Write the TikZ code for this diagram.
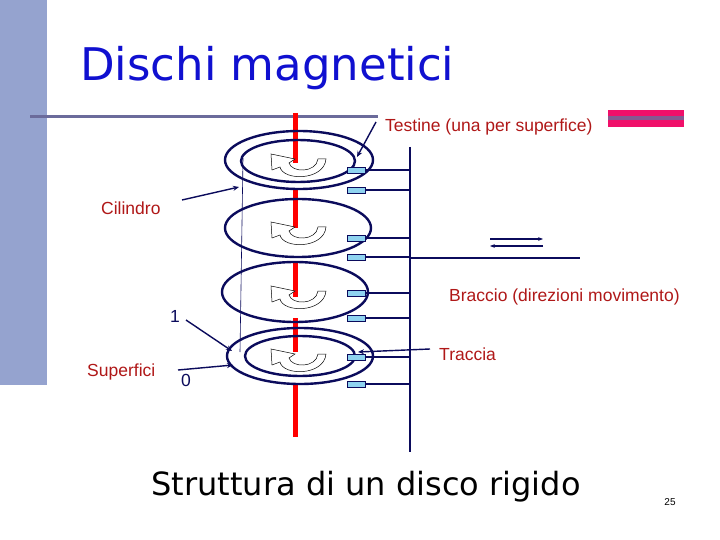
\documentclass[tikz,border=0pt]{standalone}
\usepackage{fontspec}
\setmainfont{Liberation Sans}
\newfontfamily\dv{DejaVu Sans}
\usetikzlibrary{arrows.meta}
\definecolor{navy}{HTML}{0B0B5C}
\definecolor{lab}{HTML}{B01818}
\definecolor{bar}{HTML}{95A3CF}
\definecolor{ttl}{HTML}{1010D0}
\definecolor{rule}{HTML}{6B6B9B}
\definecolor{head}{HTML}{8FD3F0}
\definecolor{pinkc}{HTML}{F0106A}
\tikzset{
 disc/.style={draw=navy,line width=2.4pt},
 spindle/.style={draw=red,line width=5pt},
 hd/.style={draw=navy,fill=head,line width=0.8pt},
 arm/.style={draw=navy,line width=2pt},
 lbl/.style={text=lab,font=\fontsize{17.5}{20}\selectfont,inner sep=0pt},
 ptr/.style={draw=navy,line width=1.4pt,-{Stealth[length=6pt,width=5pt]}},
 rotarrow/.pic={\draw[black,fill=white,line width=0.5pt]
   (31,-6) .. controls (29,16) and (-12,16) .. (-15,2) -- (-23,5) -- (-24,-11) -- (0,-6) -- (-6,-2)
   .. controls (-3,8) and (21,8) .. (23,-6) -- cycle;}
}
\begin{document}
\begin{tikzpicture}[x=1pt,y=-1pt]
\useasboundingbox (0,0) rectangle (720,540);
\fill[white] (0,0) rectangle (720,540);
\fill[bar] (0,0) rectangle (47,385);
\draw[rule,line width=3pt] (30,117) -- (378,117);
\node[anchor=west,text=ttl,font=\dv\fontsize{45}{50}\selectfont,inner sep=0pt] (title) at (80,68) {Dischi magnetici};
\fill[pinkc] (608,110) rectangle (684,127);
\fill[rule!80!pinkc] (608,116) rectangle (684,120);
% spindle
\foreach \a/\b in {113/163,190/228,262/297,318/352,385/437}
  \draw[spindle] (295,\a) -- (295,\b);
% discs
\draw[disc] (299,160) ellipse (74 and 29);
\draw[disc] (298,161) ellipse (57 and 21);
\draw[disc] (298,228) ellipse (73 and 29);
\draw[disc] (295,292) ellipse (73 and 30);
\draw[disc] (300,356) ellipse (73 and 28);
\draw[disc] (300,356) ellipse (55 and 20);
% cylinder line
\draw[navy,line width=0.6pt] (243,158) -- (240,352);
% rotation arrows
\foreach \y in {165,233,297,360}
  \pic at (295,\y) {rotarrow};
% arm
\draw[arm] (410,147) -- (410,452);
\draw[navy,line width=1.5pt] (410,258) -- (580,258);
\foreach \y in {170,190,238,257,293,318,357,384}{
  \draw[arm] (365,\y) -- (410,\y);
  \draw[hd] (347,\y-3) rectangle (365,\y+3);
}
\draw[navy,line width=1.2pt,-{Stealth[length=5pt]}] (490,239) -- (543,239);
\draw[navy,line width=1.2pt,-{Stealth[length=5pt]}] (543,246) -- (490,246);
% labels
\node[lbl,anchor=west] (tst) at (385,127) {Testine (una per superfice)};
\coordinate (t1) at (376,122);
\coordinate (t2) at (357,157);
\draw[ptr] (t1) -- (t2);
\node[lbl,anchor=west] (cil) at (101,208) {Cilindro};
\coordinate (c1) at (182,200); \coordinate (c2) at (239,187);
\draw[ptr] (c1) -- (c2);
\node[lbl,anchor=west] (brc) at (449,297) {Braccio (direzioni movimento)};
\node[lbl,anchor=west] (trc) at (439,354) {Traccia};
\coordinate (r1) at (430,349); \coordinate (r2) at (358,352);
\draw[ptr] (r1) -- (r2);
\node[lbl,anchor=west] (sup) at (87,372) {Superfici};
\node[anchor=west,inner sep=0pt,font=\fontsize{17.5}{20}\selectfont,text=navy] (one) at (170,316) {1};
\node[anchor=west,inner sep=0pt,font=\fontsize{17.5}{20}\selectfont,text=navy] (zero) at (181,380) {0};
\coordinate (o1) at (186,320); \coordinate (o2) at (232,351);
\draw[ptr] (o1) -- (o2);
\coordinate (s1) at (178,370); \coordinate (s2) at (233,365);
\draw[ptr] (s1) -- (s2);
\node[font=\dv\fontsize{32}{36}\selectfont,inner sep=0pt] (cap) at (366,487) {Struttura di un disco rigido};
\node[font=\fontsize{10}{12}\selectfont,inner sep=0pt] (pg) at (670,502) {25};
\end{tikzpicture}
\end{document}
